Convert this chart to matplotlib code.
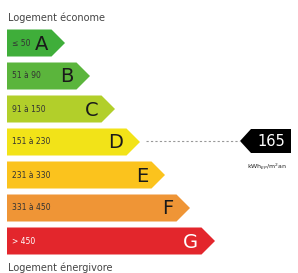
from matplotlib import pyplot as plt
from matplotlib.patches import Polygon

# energy classes
letters = ['A', 'B', 'C', 'D', 'E', 'F', 'G']
ranges = ['≤ 50', '51 à 90', '91 à 150', '151 à 230', '231 à 330', '331 à 450', '> 450']
colors = ['#3fae3a', '#5bb53c', '#b2cf2a', '#f2e318', '#fbc31d', '#ef9536', '#e3262c']
letter_colors = ['#1a1a1a'] * 6 + ['white']
value = 165
value_class = 'D'
unit = 'kWh$_{EP}$/m$^2$an'

fig = plt.figure(figsize=(2.98, 2.73), dpi=100)
ax = fig.add_axes([0, 0, 1, 1])
ax.set_xlim(0, 298)
ax.set_ylim(273, 0)
ax.axis('off')

left = 7
top0 = 29.5
step = 33
h = 27
tip0 = 65
tip_step = 25

for i, (let, rng, col, lc) in enumerate(zip(letters, ranges, colors, letter_colors)):
    y0 = top0 + i * step
    tip = tip0 + i * tip_step
    body = tip - h / 2
    ax.add_patch(Polygon([(left, y0), (body, y0), (tip, y0 + h / 2), (body, y0 + h), (left, y0 + h)],
                         closed=True, facecolor=col, edgecolor='none'))
    ax.text(left + 5, y0 + h / 2, rng, fontsize=5.5, color='#333333' if i < 6 else 'white',
            va='center', ha='left')
    ax.text(body - 3, y0 + h / 2 + 1, let, fontsize=14, color=lc, va='center', ha='right')

# value marker
k = letters.index(value_class)
yc = top0 + k * step + h / 2 - 1
tipx = tip0 + k * tip_step
ax.plot([tipx + 6, 240], [yc, yc], ls=(0, (2, 2)), color='#999999', lw=0.8)
ax.add_patch(Polygon([(240, yc), (251, yc - 12), (291, yc - 12), (291, yc + 12), (251, yc + 12)],
                     closed=True, facecolor='black', edgecolor='none'))
ax.text(271, yc + 0.5, str(value), fontsize=10.5, color='white', va='center', ha='center')
ax.text(267, yc + 26, unit, fontsize=4.5, color='#222222', va='center', ha='center')

ax.text(8, 18, 'Logement économe', fontsize=7, color='#444444', va='center', ha='left')
ax.text(8, 268, 'Logement énergivore', fontsize=7, color='#444444', va='center', ha='left')

plt.savefig('out.png', dpi=100)
